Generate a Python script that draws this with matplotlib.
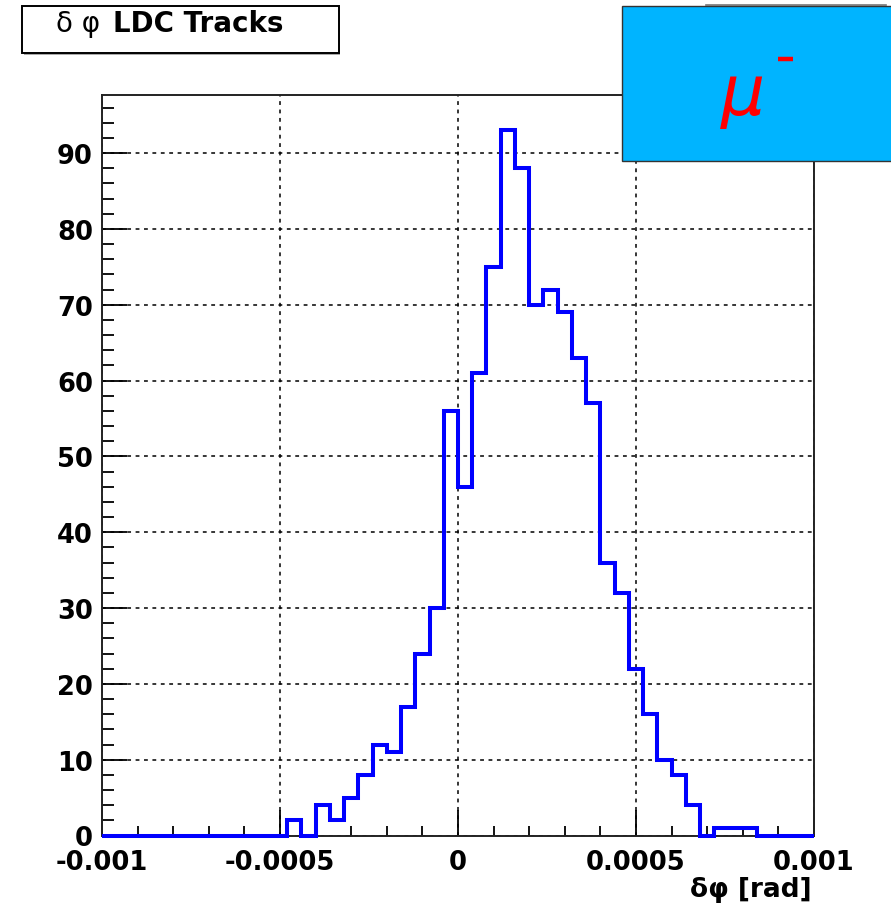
import numpy as np
import matplotlib.pyplot as plt
from matplotlib.patches import Rectangle
from matplotlib.lines import Line2D
from matplotlib.ticker import MultipleLocator

# histogram: 50 bins between -0.001 and 0.001 rad
x_lo, x_hi, n_bins = -0.001, 0.001, 50
counts = [0, 0, 0, 0, 0, 0, 0, 0, 0, 0,
          0, 0, 0, 2, 0, 4, 2, 5, 8, 12,
          11, 17, 24, 30, 56, 46, 61, 75, 93, 88,
          70, 72, 69, 63, 57, 36, 32, 22, 16, 10,
          8, 4, 0, 1, 1, 1, 0, 0, 0, 0]
x_ticks = [-0.001, -0.0005, 0, 0.0005, 0.001]
x_ticklabels = ['-0.001', '-0.0005', '0', '0.0005', '0.001']
y_ticks = [0, 10, 20, 30, 40, 50, 60, 70, 80, 90]
y_max = 97.7

W, H = 891, 904
fig = plt.figure(figsize=(W / 100, H / 100), dpi=100)

def fx(px):
    return px / W

def fy(py):
    return 1 - py / H

ax = fig.add_axes([fx(102), fy(836.5), fx(814) - fx(102), fy(95.7) - fy(836.5)])

edges = np.linspace(x_lo, x_hi, n_bins + 1)
ax.stairs(counts, edges, color='#0000ff', lw=2.9, baseline=0, clip_on=False, zorder=3)

ax.set_xlim(x_lo, x_hi)
ax.set_ylim(0, y_max)
ax.set_xticks(x_ticks)
ax.set_xticklabels(x_ticklabels)
ax.set_yticks(y_ticks)
ax.xaxis.set_minor_locator(MultipleLocator(0.0001))
ax.yaxis.set_minor_locator(MultipleLocator(2))

ax.tick_params(axis='x', which='major', direction='in', length=19, width=1.3, pad=9.5)
ax.tick_params(axis='x', which='minor', direction='in', length=7, width=1.3)
ax.tick_params(axis='y', which='major', direction='in', length=18, width=1.3, pad=6.5)
ax.tick_params(axis='y', which='minor', direction='in', length=8.5, width=1.3)
ax.tick_params(top=False, right=False, which='both')
for lab in ax.get_xticklabels() + ax.get_yticklabels():
    lab.set_fontsize(18.5)
    lab.set_fontweight('bold')
    lab.set_family('DejaVu Sans')

ax.grid(True, which='major', color='black', lw=1.1, linestyle=(0, (2.5, 3)))
for s in ax.spines.values():
    s.set_linewidth(1.4)
    s.set_color('#222222')

# x axis title at lower right
fig.text(fx(812), fy(897), '\u03b4\u03c6 [rad]', ha='right', va='baseline',
         fontsize=19, fontweight='bold', family='DejaVu Sans')

# title box
fig.add_artist(Rectangle((fx(23.5), fy(55.5)), fx(340) - fx(23.5), fy(9) - fy(55.5),
                         transform=fig.transFigure, facecolor='#aaaaaa', edgecolor='none', zorder=4))
fig.add_artist(Rectangle((fx(21.7), fy(54)), fx(338.5) - fx(21.7), fy(7.3) - fy(54),
                         transform=fig.transFigure, facecolor='white', edgecolor='black', lw=1.4, zorder=5))
fig.text(fx(56), fy(32.5), '\u03b4 \u03c6', ha='left', va='baseline', fontsize=20,
         family='DejaVu Sans', zorder=6)
fig.text(fx(113), fy(32.5), 'LDC Tracks', ha='left', va='baseline', fontsize=20,
         fontweight='bold', family='DejaVu Sans', zorder=6)

# mu- label box
fig.add_artist(Line2D([fx(706), fx(886)], [fy(6), fy(6)], transform=fig.transFigure,
                      color='#777777', lw=1.2, zorder=4))
fig.add_artist(Rectangle((fx(622), fy(161.7)), fx(895) - fx(622), fy(7.3) - fy(161.7),
                         transform=fig.transFigure, facecolor='#00b4ff', edgecolor='#333333', lw=1.0, zorder=5))
fig.text(fx(721), fy(115), '\u03bc', ha='left', va='baseline', fontsize=50,
         style='italic', color='red', family='DejaVu Sans', zorder=6)
fig.add_artist(Line2D([fx(778), fx(793)], [fy(59.5), fy(59.5)], transform=fig.transFigure,
                      color='red', lw=3.2, solid_capstyle='butt', zorder=6))

fig.savefig('out.png', dpi=100)
